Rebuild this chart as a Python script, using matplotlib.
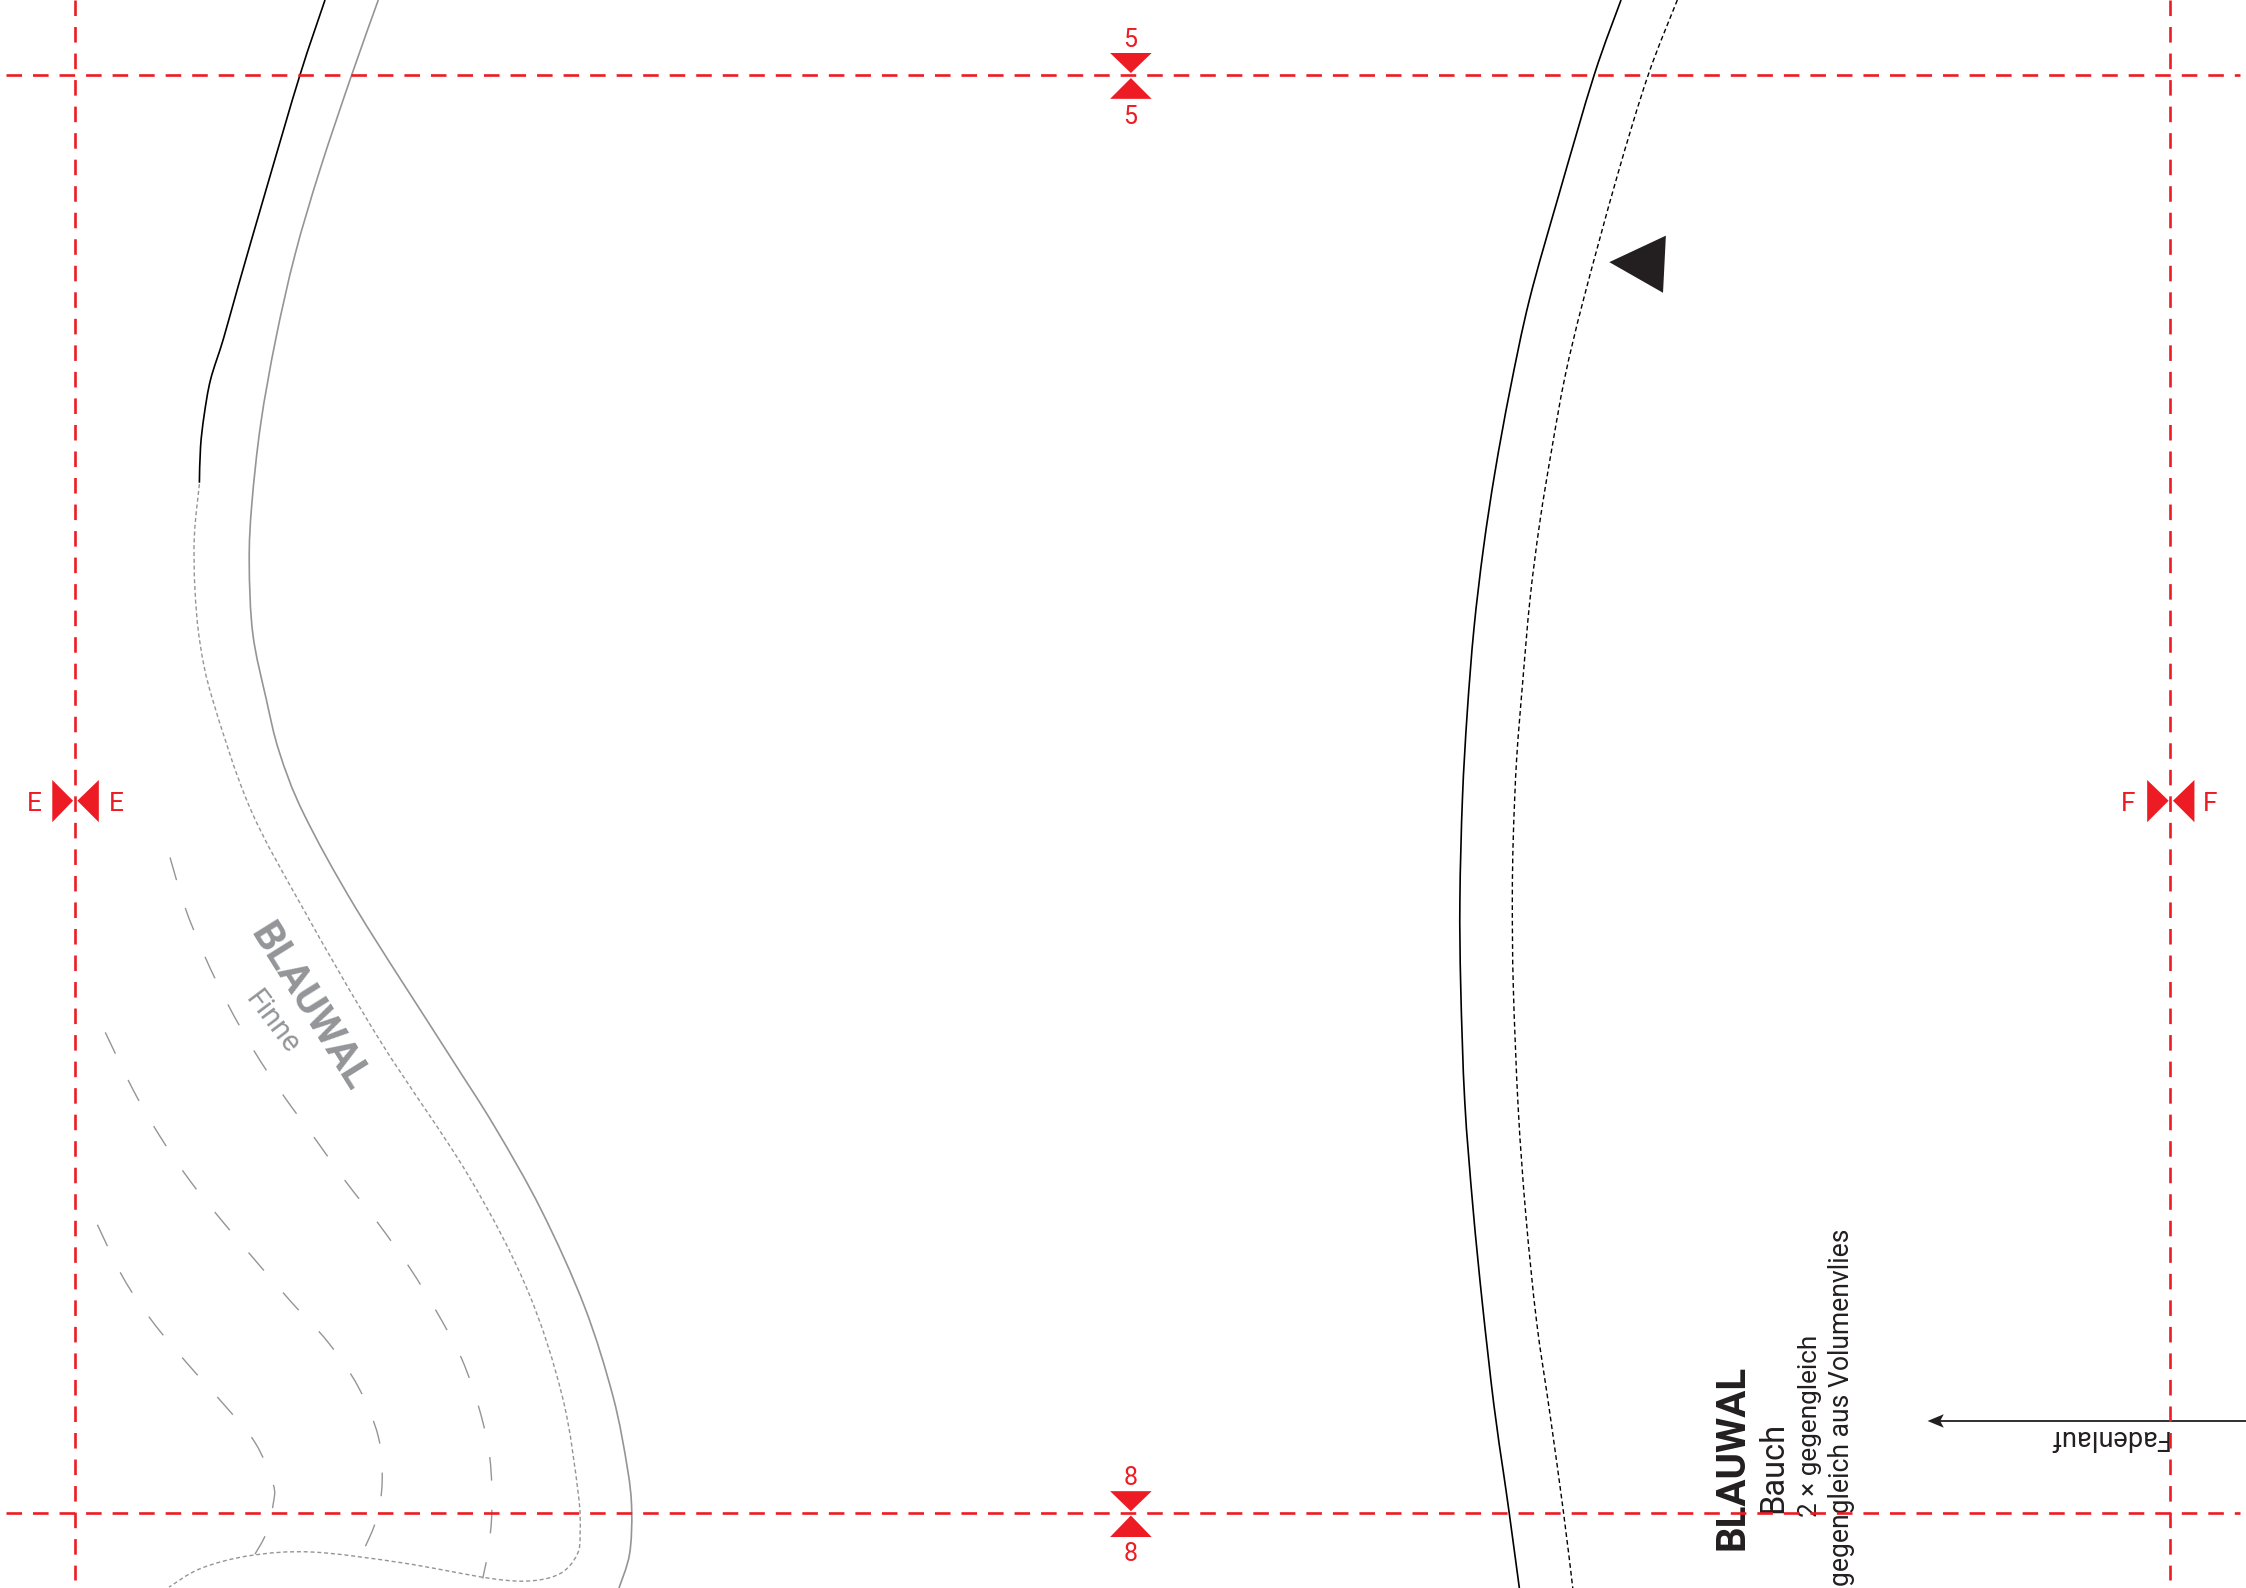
import matplotlib
matplotlib.use('Agg')
import matplotlib.pyplot as plt
from matplotlib.path import Path
from matplotlib.patches import PathPatch, Polygon

plt.rcParams['lines.scale_dashes'] = False

RED = '#ed1c24'
GREY = '#939598'
BLACK = '#231f20'

PAGE_W = 1568
PAGE_H = 1108.6

# seam lines and stitch lines
bauch_cut = [(1131.7, 0), (1112.9, 52.5), (1088, 137), (1067.7, 209.4), (1054.2, 272.2), (1043.7, 329.5),
             (1035.6, 383), (1029, 439), (1024.3, 497.8), (1021, 556.8), (1019.2, 628), (1019.8, 689.6),
             (1022.6, 769), (1028.3, 842.8), (1034.9, 910), (1042.9, 980.6), (1049.6, 1028),
             (1053.6, 1056), (1060.7, 1108.6)]
bauch_stitch = [(1171, 0), (1150.6, 52.5), (1129, 123), (1105.4, 209.4), (1092.6, 262.8), (1083.3, 313.7),
                (1075, 364.5), (1068.2, 417.8), (1063, 476.6), (1058.8, 530), (1056.5, 583.5), (1055.8, 628.3),
                (1056.5, 689.6), (1060, 775.3), (1065.3, 849), (1072.7, 922.3), (1082, 986.6),
                (1091.5, 1055.6), (1098, 1108.6)]
finne_black = [(226.9, 0), (209.4, 52.4), (186.2, 130.9), (166.4, 199.4), (155.9, 236.8), (147, 265),
               (142.5, 290), (140, 312), (139.2, 337)]
finne_grey = [(264.1, 0), (245.5, 52.4), (223.4, 118.4), (206, 177.6), (192.5, 236.8), (182, 296),
              (175.8, 352), (174, 392.6), (176.5, 442.5), (186, 488.6), (195, 525), (212, 568),
              (249, 635), (312, 734), (345, 786), (378, 845), (408, 912), (428, 975), (438, 1025),
              (441, 1054), (439.5, 1085), (432, 1109)]
finne_stitch = [(139.2, 338), (135.7, 374), (136.1, 411.3), (139.6, 448.7), (148.5, 488.6), (174.5, 564),
                (212, 635), (265, 726), (327, 820.7), (368, 900), (392.6, 975), (403.6, 1042), (405, 1070),
                (403, 1085), (392, 1098), (372, 1103.5), (343, 1102), (280.5, 1091), (218, 1083.5),
                (174.5, 1086), (140, 1095), (118, 1108)]
quilt_1 = [(118.7, 598.6), (129, 633), (142.7, 667), (159, 701), (177.6, 734), (198, 765), (220, 795),
           (241.5, 825), (264, 854), (286, 885), (305, 916), (322.5, 949), (335, 985), (342, 1018),
           (343.4, 1054), (341, 1081.6), (337, 1102)]
quilt_2 = [(73.5, 720.7), (93, 761), (111.5, 793), (132.4, 824), (156, 853.5), (180, 882), (204, 909.7),
           (229, 937), (250, 968), (264, 1002.5), (266.8, 1034), (263, 1060), (254, 1082)]
quilt_3 = [(68, 855), (86, 892), (106, 922), (130, 951), (155, 979), (178, 1007), (190.7, 1036),
           (190.7, 1050), (186, 1070), (178, 1085)]

# registration lines
h_lines_y = [52.5, 1056]
v_lines_x = [52.7, 1515]

# notch triangles
notches = [
    [(775, 37), (804, 37), (789.5, 51)],
    [(775, 69), (804, 69), (789.5, 54.5)],
    [(775, 1041), (804, 1041), (789.5, 1055)],
    [(775, 1073), (804, 1073), (789.5, 1058)],
    [(36.5, 544.5), (36.5, 574), (51, 559)],
    [(69, 544.5), (69, 574), (54, 559)],
    [(1499, 544.5), (1499, 574), (1514, 559)],
    [(1532, 544.5), (1532, 574), (1517, 559)],
]
digit_labels = [('5', 789, 28), ('5', 789, 82), ('8', 789, 1032), ('8', 789, 1085)]
letter_labels = [('E', 24, 561), ('E', 81, 561), ('F', 1486, 561), ('F', 1543, 561)]
marker_triangle = [(1123.5, 183), (1163, 164.5), (1161, 204.4)]
arrow_head = [(1345.7, 992), (1357, 987.3), (1354.5, 992), (1357, 996.7)]


def smooth(points):
    # catmull-rom through the read points, written as bezier segments
    verts = [points[0]]
    codes = [Path.MOVETO]
    for i in range(len(points) - 1):
        p0 = points[max(i - 1, 0)]
        p1 = points[i]
        p2 = points[i + 1]
        p3 = points[min(i + 2, len(points) - 1)]
        c1 = (p1[0] + (p2[0] - p0[0]) / 6, p1[1] + (p2[1] - p0[1]) / 6)
        c2 = (p2[0] - (p3[0] - p1[0]) / 6, p2[1] - (p3[1] - p1[1]) / 6)
        verts += [c1, c2, p2]
        codes += [Path.CURVE4] * 3
    return Path(verts, codes)


def curve(ax, points, color, lw, ls='-'):
    ax.add_patch(PathPatch(smooth(points), fill=False, edgecolor=color, lw=lw, linestyle=ls))


fig = plt.figure(figsize=(22.46, 15.88), dpi=100)
ax = fig.add_axes([0, 0, 1, 1])
ax.set_xlim(0, PAGE_W)
ax.set_ylim(PAGE_H, 0)
ax.axis('off')

curve(ax, bauch_cut, 'black', 1.2)
curve(ax, bauch_stitch, 'black', 1.0, (0, (3.4, 2.2)))
curve(ax, finne_black, 'black', 1.2)
curve(ax, finne_grey, GREY, 1.2)
curve(ax, finne_stitch, GREY, 1.0, (0, (2.9, 2.0)))
for q in [quilt_1, quilt_2, quilt_3]:
    curve(ax, q, GREY, 1.0, (0, (17, 21)))

for y in h_lines_y:
    ax.plot([4, 1564], [y, y], color=RED, lw=1.9, linestyle=(0, (11.2, 7.9)), zorder=5)
for x in v_lines_x:
    ax.plot([x, x], [0, 1103], color=RED, lw=1.9, linestyle=(0, (11.2, 7.9)), zorder=5)

for tri in notches:
    ax.add_patch(Polygon(tri, closed=True, facecolor=RED, edgecolor='none', zorder=6))

font = ['Roboto', 'DejaVu Sans']
for label, x, y in digit_labels:
    ax.text(x, y, label, color=RED, fontsize=18, family=['Liberation Sans Narrow', 'Roboto'],
            ha='center', va='center', zorder=6)
for label, x, y in letter_labels:
    ax.text(x, y, label, color=RED, fontsize=19, family=font, ha='center', va='center', zorder=6)

ax.add_patch(Polygon(marker_triangle, closed=True, facecolor=BLACK, edgecolor='none'))

# grainline arrow
ax.plot([1352, PAGE_W], [992, 992], color=BLACK, lw=1.3)
ax.add_patch(Polygon(arrow_head, closed=True, facecolor=BLACK, edgecolor='none'))

ax.text(1513.6, 998.5, 'Fadenlauf', color=BLACK, fontsize=19.5, family=font,
        rotation=180, rotation_mode='anchor', ha='left', va='baseline')

ax.text(1217.5, 1082, 'BLAUWAL', color=BLACK, fontsize=29, family=font, weight='bold',
        rotation=90, rotation_mode='anchor', ha='left', va='baseline')
ax.text(1244.5, 1056, 'Bauch', color=BLACK, fontsize=23.5, family=font,
        rotation=90, rotation_mode='anchor', ha='left', va='baseline')
ax.text(1268.7, 1059, '2 × gegengleich', color=BLACK, fontsize=18.8, family=font,
        rotation=90, rotation_mode='anchor', ha='left', va='baseline')
ax.text(1291, 1107, 'gegengleich aus Volumenvlies', color=BLACK, fontsize=19.1, family=font,
        rotation=90, rotation_mode='anchor', ha='left', va='baseline')

ax.text(215.5, 703, 'BLAUWAL', color=GREY, fontsize=29.5, family=font, weight='bold',
        rotation=-58, rotation_mode='anchor', ha='center', va='center')
ax.text(190, 714, 'Finne', color=GREY, fontsize=21, family=font,
        rotation=-53, rotation_mode='anchor', ha='center', va='center')

fig.savefig('out.png', dpi=100)
